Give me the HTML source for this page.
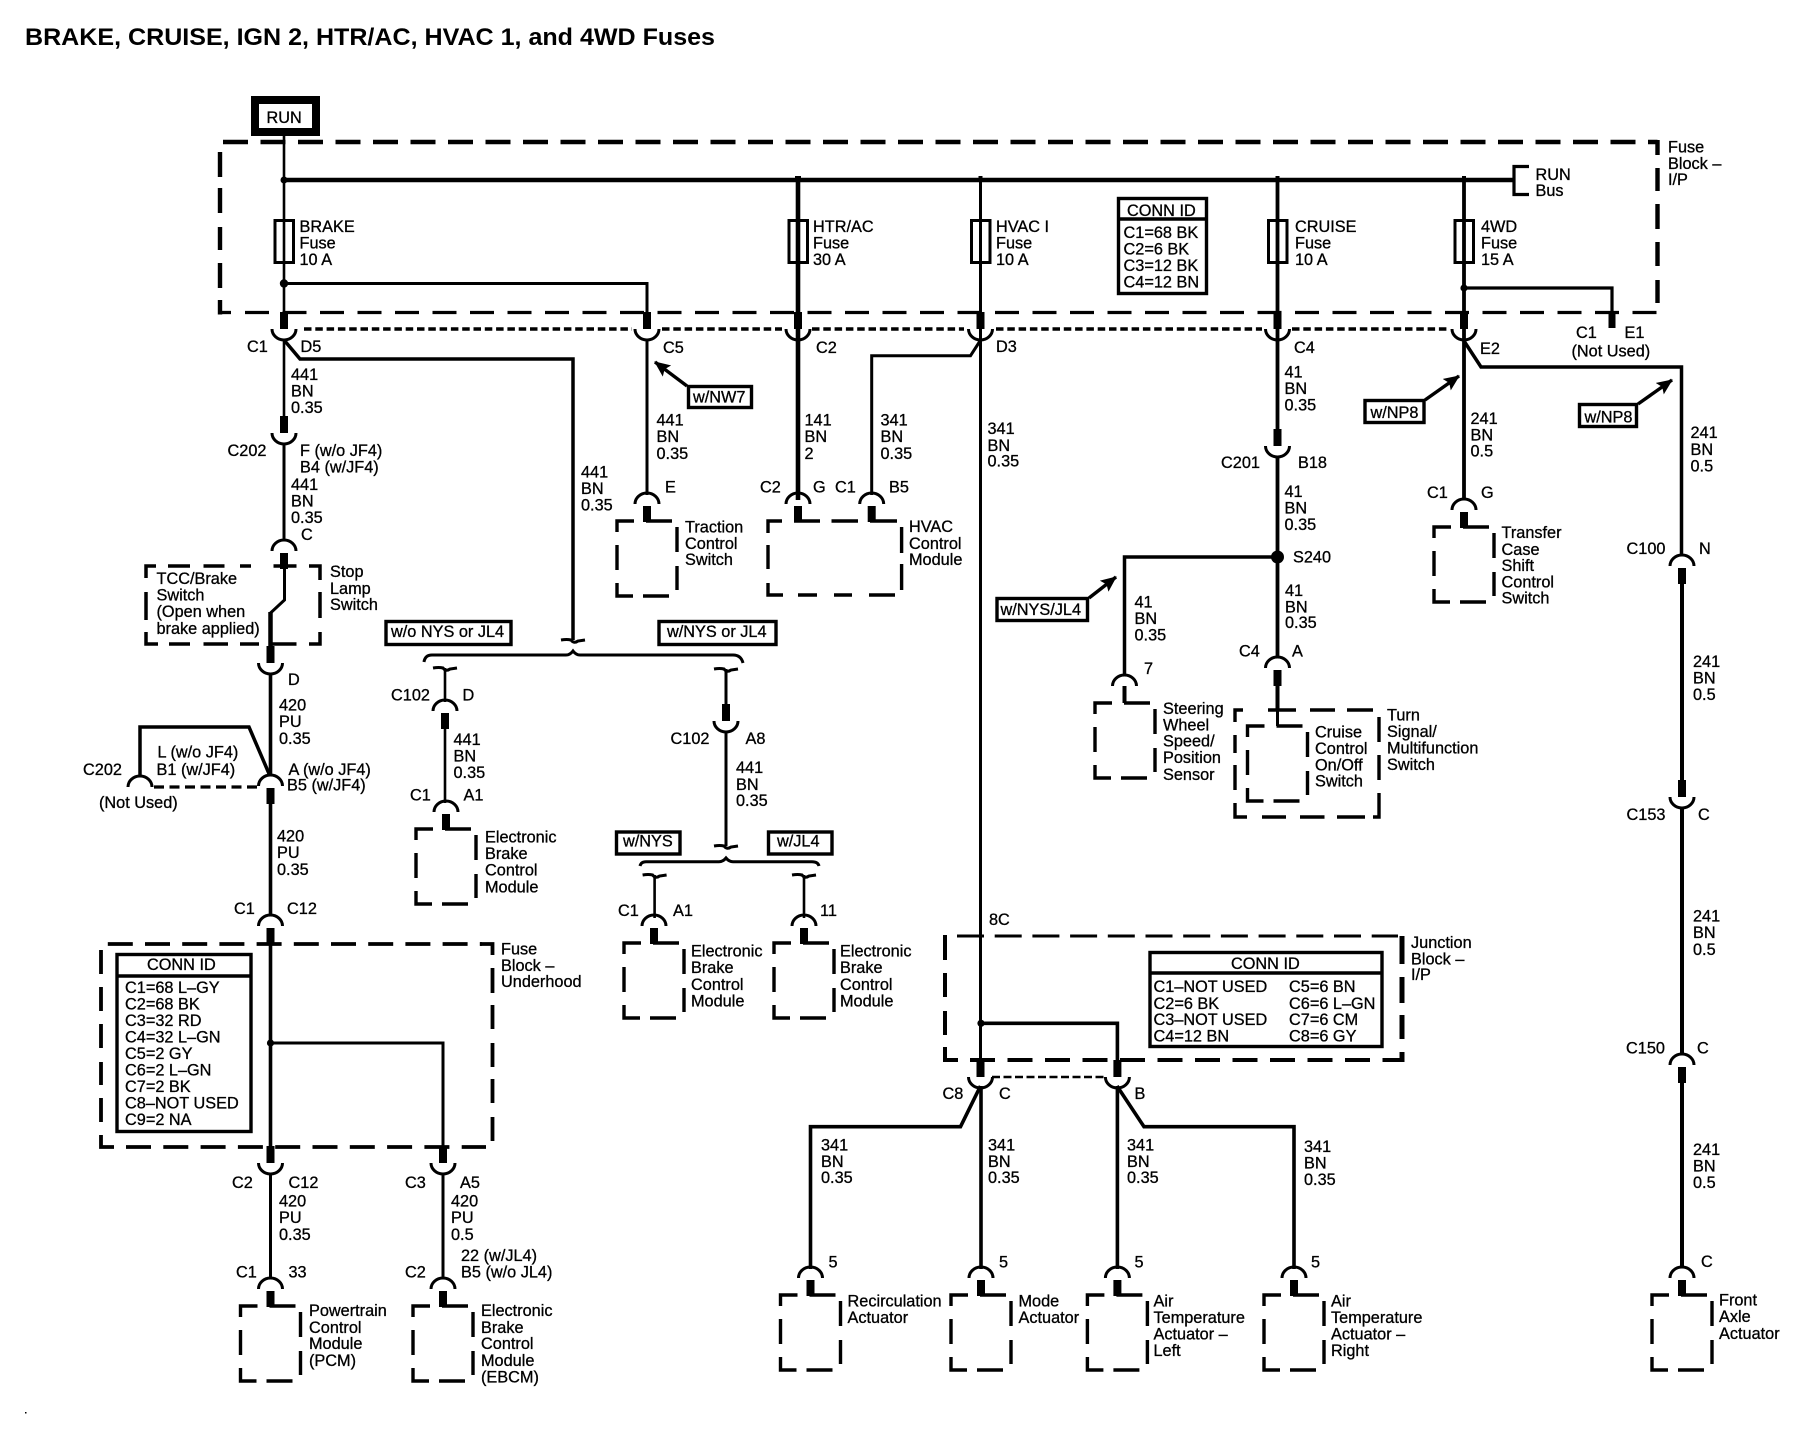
<!DOCTYPE html>
<html><head><meta charset="utf-8"><title>Fuses wiring diagram</title>
<style>
html,body{margin:0;padding:0;background:#fff}
svg{display:block}
text{font-family:"Liberation Sans",sans-serif;font-size:16.3px;fill:#000;stroke:#000;stroke-width:.3px}
.w{fill:none;stroke:#000;stroke-linejoin:miter}
</style></head><body>
<svg width="1808" height="1456" viewBox="0 0 1808 1456" xmlns="http://www.w3.org/2000/svg">
<defs>
<marker id="ah" markerUnits="userSpaceOnUse" markerWidth="18" markerHeight="14" refX="15" refY="7" orient="auto"><path d="M0 0L16 7L0 14L3 7Z"/></marker>
<g id="cup"><rect x="-4" y="-17" width="8" height="17"/><path class="w" stroke-width="3" d="M-12 0A12 11 0 0 0 12 0"/></g>
<g id="cap"><path class="w" stroke-width="3" d="M-12 11A12 11 0 0 1 12 11"/><rect x="-4" y="13" width="8" height="16"/></g>
<g id="mod"><path class="w" stroke-width="3.4" d="M-30 11V0H-13M-1 0H25M-30 24V49M-30 62V75H-14M-4 75H22M30 6V31M30 45V69"/></g>
<g id="cm"><use href="#cap" y="-28"/><use href="#mod"/></g>
<g id="fuse"><rect class="w" stroke-width="3" x="-9" y="220.5" width="18.5" height="42"/></g>
<path id="tick" class="w" stroke-width="3" d="M-12 0Q-6 -1 -2 0Q1 4 5 1L12 0"/>
</defs>

<!-- title -->
<text x="25" y="45" textLength="690" lengthAdjust="spacingAndGlyphs" style="font-size:24.5px;font-weight:bold;stroke-width:0">BRAKE, CRUISE, IGN 2, HTR/AC, HVAC 1, and 4WD Fuses</text>
<rect x="25" y="1412" width="1.5" height="1.5"/>

<!-- RUN -->
<rect class="w" stroke-width="8" x="255" y="100" width="61" height="32"/>
<text x="266.5" y="123">RUN</text>

<!-- fuse block I/P -->
<g class="w">
<path stroke-width="4.4" stroke-dasharray="25 12.5" d="M223 142H1657.5"/>
<path stroke-width="4.4" d="M220 152V177M220 188V213M220 227V250M220 263V288M220 300V314.5M1657.5 140V155M1657.5 168V191M1657.5 204V229M1657.5 242V266M1657.5 280V303"/>
<path stroke-width="3.3" d="M218 312.5H231"/>
<path stroke-width="3.3" stroke-dasharray="24 13.5" d="M245 312.5H1657"/>
<path stroke-width="3.6" stroke-dasharray="7.5 3.8" d="M304 329H632M662 329H782M812 329H964M996 329H1262M1292 329H1448"/>
<!-- bus -->
<path stroke-width="4.6" d="M284 180H1514"/>
<path stroke-width="3.2" d="M1529 166.5H1514V194.5H1529"/>
<!-- brake column -->
<path stroke-width="2.6" d="M284 136V329M284 340V433"/>
<path stroke-width="3" d="M284 283.5H647V329"/>
<path stroke-width="3" d="M647 340V495"/>
<path stroke-width="3.5" d="M284 340L300 359H573V640"/>
<path stroke-width="4.6" d="M798 176V500"/>
<path stroke-width="3" d="M980.5 176V1076"/>
<path stroke-width="3" d="M980 341L970.5 355.7H871.7V495"/>
<path stroke-width="3.8" d="M1277.5 176V430M1277.5 456V657"/>
<path stroke-width="3.8" d="M1464 176V498"/>
<path stroke-width="3.2" d="M1464 288H1612V313"/>
<path stroke-width="3.5" d="M1464 341L1481 367H1681.5V555"/>
<path stroke-width="4" d="M1682 583V781M1682 807V1054M1682 1083V1268"/>
<path stroke-width="3.5" d="M1277.5 557H1124.5V676"/>
<path stroke-width="4" d="M1124.5 686V703"/>
<path stroke-width="4" d="M1277.5 672V710"/>
<path stroke-width="3" d="M1277.5 710V726"/>
<!-- left column -->
<path stroke-width="3" d="M284 443V541M284.5 566V600L270.5 613"/>
<path stroke-width="4.5" d="M270.5 612V660"/>
<path stroke-width="3.6" d="M270.5 673V776M270.5 800V916M270.5 944V1147"/>
<path stroke-width="3.5" d="M270 776L249 727H140V776"/>
<path stroke-width="3.2" stroke-dasharray="10 5.5" d="M154 787H258"/>
<path stroke-width="3" d="M270 1043H443V1147"/>
<path stroke-width="3" d="M270.5 1175V1279M443 1175V1279"/>
<!-- C102 / brace -->
<path stroke-width="3" d="M424 662Q425 655 432 655H566Q570 655 573 651Q576 655 580 655H733Q741 655 743 663"/>
<path stroke-width="2.6" d="M445 668V702M445 725V803"/>
<path stroke-width="3" d="M726 669V706M726 731V846"/>
<path stroke-width="3" d="M640 866Q641 861.7 646 861.7H719Q723 861.7 726 858Q729 861.7 733 861.7H812Q818 861.7 819 866"/>
<path stroke-width="2.6" d="M654.6 875V918M804 875V918"/>
<!-- junction block lower -->
<path stroke-width="3.6" d="M981 1023.3H1117.4V1076"/>
<path stroke-width="2.6" stroke-dasharray="8 3.5" d="M992 1077H1106"/>
<path stroke-width="3.6" d="M980.5 1086L960.5 1126.7H810.5V1269"/>
<path stroke-width="3.6" d="M981 1086V1269M1117.4 1086V1269"/>
<path stroke-width="3.6" d="M1117 1086L1144 1126.7H1294V1269"/>
<!-- junction block dashed -->
<path stroke-width="3" stroke-dasharray="27 10.7" d="M957 936H1398"/>
<path stroke-width="4" d="M945 935V960M945 973V997M945 1011V1035M945 1047V1060H958"/>
<path stroke-width="4" stroke-dasharray="25 12.5" d="M970 1060H1403"/>
<path stroke-width="5" d="M1402 936V964M1402 977V1003M1402 1015V1039M1402 1052V1062"/>
<!-- underhood block -->
<path stroke-width="3.8" stroke-dasharray="25 12.2" d="M107.8 944H482"/>
<path stroke-width="3.8" d="M480 944H492.5V955M492.5 968V993M492.5 1005V1029M492.5 1043V1067M492.5 1079V1103M492.5 1117V1141M101 950V974M101 987V1011M101 1024V1048M101 1062V1085M101 1098V1122M101 1135V1147H114"/>
<path stroke-width="3.8" stroke-dasharray="25 12.3" d="M126 1147H486"/>
<!-- stop lamp box -->
<path stroke-width="3.5" d="M146 578V566H156M168 566H190M203.5 566H224.5M240 566H251M273.5 566H296.5M309 566H320V580M146 592V620M146 632V644H158M169 644H190M203.5 644H228M240 644H259M272 644H296.5M309 644H320V632M320 592V618"/>
<!-- HVAC module -->
<path stroke-width="3.4" d="M768 533V521H782M794 521H820M831.5 521H858M870 521H897M768 545V569M768 583V595H783M798 595H817M834 595H852M869 595H895M901.6 527V553M901.6 564V590"/>
<!-- cruise outer -->
<path stroke-width="3.4" d="M1235 722V710H1243M1268 710H1296M1310 710H1335M1347 710H1373M1235 735V753M1235 765V790M1235 803V817H1247M1262 817H1286M1300 817H1324.5M1337 817H1365M1373 817H1379V793M1379 717V742M1379 755V780"/>
<path stroke-width="3" d="M1112.5 686A12 11 0 0 1 1136.5 686"/>
</g>
<!-- stubs on box G / B5 -->
<use href="#cap" x="798" y="493"/><use href="#cap" x="871.7" y="493"/>

<!-- fuses -->
<use href="#fuse" x="284"/><use href="#fuse" x="798"/><use href="#fuse" x="980.5"/><use href="#fuse" x="1277.5"/><use href="#fuse" x="1464"/>

<!-- dots -->
<circle cx="284" cy="180" r="3.5"/><circle cx="284" cy="283.5" r="4.2"/><circle cx="1464" cy="288" r="3.6"/>
<circle cx="1277.5" cy="557" r="6.5"/><circle cx="270.5" cy="1043" r="3.6"/><circle cx="981" cy="1023.3" r="3.6"/>
<rect x="795" y="176" width="6" height="4"/><rect x="978.5" y="176" width="4" height="4"/><rect x="1275.5" y="176" width="4" height="4"/><rect x="1462" y="176" width="4" height="4"/>

<!-- cups -->
<use href="#cup" x="284" y="329"/><use href="#cup" x="647" y="329"/><use href="#cup" x="798" y="329"/><use href="#cup" x="980.5" y="329"/><use href="#cup" x="1277.5" y="329"/><use href="#cup" x="1464" y="329"/>
<rect x="1608.5" y="313" width="7" height="15"/>
<use href="#cup" x="284" y="433"/><use href="#cup" x="1277.5" y="446"/><use href="#cup" x="270.5" y="663"/>
<use href="#cup" x="726" y="721"/><use href="#cup" x="1682" y="797"/>
<use href="#cup" x="270.5" y="1163"/><use href="#cup" x="443" y="1163"/>
<use href="#cup" x="980.5" y="1077"/><use href="#cup" x="1117.4" y="1077"/>

<!-- caps -->
<use href="#cap" x="284" y="540"/><use href="#cap" x="270.5" y="775"/>
<path class="w" stroke-width="3" d="M128 787A12 11 0 0 1 152 787"/>
<use href="#cap" x="270.5" y="915"/><use href="#cap" x="445" y="700"/><use href="#cap" x="1277.5" y="657"/>
<use href="#cap" x="1682" y="555"/><use href="#cap" x="1682" y="1054"/>

<!-- ticks -->
<use href="#tick" x="573" y="640"/><use href="#tick" x="445" y="668"/><use href="#tick" x="726" y="669"/><use href="#tick" x="726" y="846"/><use href="#tick" x="654.6" y="875"/><use href="#tick" x="804" y="875"/>

<!-- modules -->
<use href="#cm" x="270.5" y="1306"/><use href="#cm" x="443" y="1306"/><use href="#cm" x="647" y="521"/><use href="#cm" x="446" y="829"/>
<use href="#cm" x="654" y="943"/><use href="#cm" x="804" y="943"/><use href="#mod" x="1125" y="703"/><use href="#mod" x="1277.5" y="726"/>
<use href="#cm" x="1464" y="527"/><use href="#cm" x="1682" y="1295"/>
<use href="#cm" x="810.5" y="1295"/><use href="#cm" x="981" y="1295"/><use href="#cm" x="1117.4" y="1295"/><use href="#cm" x="1294" y="1295"/>

<!-- tag boxes -->
<g class="w" stroke-width="3.4">
<rect x="386" y="621.5" width="125" height="23"/>
<rect x="659" y="621.5" width="117" height="23"/>
<rect x="616.5" y="832" width="63.5" height="22"/>
<rect x="768.5" y="832" width="63.5" height="22"/>
<rect x="997" y="598.5" width="90.5" height="22"/>
<rect x="688.5" y="386.5" width="63" height="21"/>
<rect x="1365" y="400.5" width="59" height="22"/>
<rect x="1579.5" y="404.5" width="57" height="22"/>
<path marker-end="url(#ah)" d="M687 386L655 362"/>
<path marker-end="url(#ah)" d="M1089 598L1116 577"/>
<path marker-end="url(#ah)" d="M1425 400L1459 376"/>
<path marker-end="url(#ah)" d="M1638 404L1672 380"/>
<!-- conn id boxes -->
<rect x="1118.5" y="198.5" width="88" height="95"/><path d="M1118 219H1207"/>
<rect x="117" y="954.5" width="134" height="177"/><path d="M117 976H251"/>
<rect x="1150" y="952.5" width="232" height="94"/><path d="M1150 973H1382"/>
</g>

<!-- labels -->
<text x="1127" y="216">CONN ID</text>
<text x="1123.5" y="238">C1=68 BK</text><text x="1123.5" y="254.5">C2=6 BK</text><text x="1123.5" y="271">C3=12 BK</text><text x="1123.5" y="287.5">C4=12 BN</text>

<text x="147" y="970">CONN ID</text>
<text x="125" y="993">C1=68 L–GY</text><text x="125" y="1009.5">C2=68 BK</text><text x="125" y="1026">C3=32 RD</text><text x="125" y="1042.5">C4=32 L–GN</text><text x="125" y="1059">C5=2 GY</text><text x="125" y="1075.5">C6=2 L–GN</text><text x="125" y="1092">C7=2 BK</text><text x="125" y="1108.5">C8–NOT USED</text><text x="125" y="1125">C9=2 NA</text>

<text x="1231" y="969">CONN ID</text>
<text x="1153.5" y="992">C1–NOT USED</text><text x="1153.5" y="1009">C2=6 BK</text><text x="1153.5" y="1025">C3–NOT USED</text><text x="1153.5" y="1041.5">C4=12 BN</text>
<text x="1289" y="992">C5=6 BN</text><text x="1289" y="1009">C6=6 L–GN</text><text x="1289" y="1025">C7=6 CM</text><text x="1289" y="1041.5">C8=6 GY</text>

<text x="299.5" y="232">BRAKE</text><text x="299.5" y="248.5">Fuse</text><text x="299.5" y="265">10 A</text>
<text x="813" y="232">HTR/AC</text><text x="813" y="248.5">Fuse</text><text x="813" y="265">30 A</text>
<text x="996" y="232">HVAC I</text><text x="996" y="248.5">Fuse</text><text x="996" y="265">10 A</text>
<text x="1295" y="232">CRUISE</text><text x="1295" y="248.5">Fuse</text><text x="1295" y="265">10 A</text>
<text x="1481" y="232">4WD</text><text x="1481" y="248.5">Fuse</text><text x="1481" y="265">15 A</text>
<text x="1535.5" y="180">RUN</text><text x="1535.5" y="196">Bus</text>
<text x="1668" y="152.5">Fuse</text><text x="1668" y="169">Block –</text><text x="1668" y="185">I/P</text>

<text x="247" y="352">C1</text><text x="300.5" y="352">D5</text>
<text x="663" y="353">C5</text><text x="816" y="353">C2</text><text x="996" y="352">D3</text><text x="1294" y="353">C4</text><text x="1480" y="354">E2</text>
<text x="1576" y="338">C1</text><text x="1624.5" y="338">E1</text><text x="1571.5" y="356.5">(Not Used)</text>

<text x="291" y="380">441</text><text x="291" y="396.5">BN</text><text x="291" y="413">0.35</text>
<text x="227.5" y="456">C202</text><text x="300" y="456">F (w/o JF4)</text><text x="300" y="472.5">B4 (w/JF4)</text>
<text x="291" y="490">441</text><text x="291" y="506.5">BN</text><text x="291" y="523">0.35</text>
<text x="301" y="540">C</text>
<text x="156.5" y="584">TCC/Brake</text><text x="156.5" y="600.5">Switch</text><text x="156.5" y="617">(Open when</text><text x="156.5" y="634">brake applied)</text>
<text x="330" y="577">Stop</text><text x="330" y="594">Lamp</text><text x="330" y="610">Switch</text>
<text x="288" y="685">D</text>
<text x="279" y="710.5">420</text><text x="279" y="727">PU</text><text x="279" y="744">0.35</text>
<text x="157.5" y="757.5">L (w/o JF4)</text><text x="156.5" y="775">B1 (w/JF4)</text><text x="83" y="775">C202</text>
<text x="288.5" y="775">A (w/o JF4)</text><text x="287" y="790.5">B5 (w/JF4)</text>
<text x="99" y="808">(Not Used)</text>
<text x="277" y="841.5">420</text><text x="277" y="858">PU</text><text x="277" y="875">0.35</text>
<text x="234" y="914">C1</text><text x="287" y="914">C12</text>
<text x="501" y="954.5">Fuse</text><text x="501" y="971">Block –</text><text x="501" y="987">Underhood</text>
<text x="232" y="1188">C2</text><text x="288.5" y="1188">C12</text><text x="405" y="1188">C3</text><text x="460" y="1188">A5</text>
<text x="279" y="1206.5">420</text><text x="279" y="1223">PU</text><text x="279" y="1240">0.35</text>
<text x="451" y="1206.5">420</text><text x="451" y="1223">PU</text><text x="451" y="1240">0.5</text>
<text x="461" y="1261">22 (w/JL4)</text><text x="461" y="1277.5">B5 (w/o JL4)</text>
<text x="236" y="1277.5">C1</text><text x="288.5" y="1277.5">33</text><text x="405" y="1277.5">C2</text>
<text x="309" y="1316">Powertrain</text><text x="309" y="1333">Control</text><text x="309" y="1349">Module</text><text x="309" y="1366">(PCM)</text>
<text x="481" y="1316">Electronic</text><text x="481" y="1333">Brake</text><text x="481" y="1349">Control</text><text x="481" y="1366">Module</text><text x="481" y="1382.5">(EBCM)</text>

<text x="581" y="477.5">441</text><text x="581" y="494">BN</text><text x="581" y="510.5">0.35</text>
<text x="656.5" y="425.5">441</text><text x="656.5" y="442">BN</text><text x="656.5" y="459">0.35</text>
<text x="804.5" y="425.5">141</text><text x="804.5" y="442">BN</text><text x="804.5" y="459">2</text>
<text x="880.5" y="425.5">341</text><text x="880.5" y="442">BN</text><text x="880.5" y="459">0.35</text>
<text x="987.5" y="434">341</text><text x="987.5" y="451">BN</text><text x="987.5" y="466.5">0.35</text>
<text x="665" y="492.5">E</text><text x="760" y="492.5">C2</text><text x="813" y="492.5">G</text><text x="835" y="492.5">C1</text><text x="889" y="492.5">B5</text>
<text x="693" y="402.5">w/NW7</text>
<text x="685" y="532.5">Traction</text><text x="685" y="549">Control</text><text x="685" y="565">Switch</text>
<text x="909" y="532">HVAC</text><text x="909" y="549">Control</text><text x="909" y="565">Module</text>

<text x="391" y="637">w/o NYS or JL4</text><text x="667" y="637">w/NYS or JL4</text>
<text x="391" y="700.5">C102</text><text x="462.5" y="700.5">D</text>
<text x="453.5" y="745">441</text><text x="453.5" y="761.5">BN</text><text x="453.5" y="778">0.35</text>
<text x="410" y="800.5">C1</text><text x="463.5" y="800.5">A1</text>
<text x="485" y="842.5">Electronic</text><text x="485" y="859">Brake</text><text x="485" y="875.5">Control</text><text x="485" y="892.5">Module</text>

<text x="670.5" y="744">C102</text><text x="745.5" y="744">A8</text>
<text x="736" y="773">441</text><text x="736" y="790">BN</text><text x="736" y="806">0.35</text>
<text x="623" y="846.5">w/NYS</text><text x="777" y="846.5">w/JL4</text>
<text x="618" y="916">C1</text><text x="673" y="916">A1</text><text x="820" y="916">11</text>
<text x="691" y="956.5">Electronic</text><text x="691" y="973">Brake</text><text x="691" y="990">Control</text><text x="691" y="1006.5">Module</text>
<text x="840" y="956.5">Electronic</text><text x="840" y="973">Brake</text><text x="840" y="990">Control</text><text x="840" y="1006.5">Module</text>

<text x="1284.5" y="377.5">41</text><text x="1284.5" y="394">BN</text><text x="1284.5" y="410.5">0.35</text>
<text x="1221" y="468">C201</text><text x="1298" y="468">B18</text>
<text x="1284.5" y="497">41</text><text x="1284.5" y="513.5">BN</text><text x="1284.5" y="530">0.35</text>
<text x="1293" y="562.5">S240</text>
<text x="1285" y="596">41</text><text x="1285" y="612.5">BN</text><text x="1285" y="628">0.35</text>
<text x="1239" y="656.5">C4</text><text x="1292" y="656.5">A</text>
<text x="1134.5" y="607.5">41</text><text x="1134.5" y="624">BN</text><text x="1134.5" y="640.5">0.35</text>
<text x="1144" y="674">7</text>
<text x="1000.5" y="615">w/NYS/JL4</text>
<text x="1163" y="714">Steering</text><text x="1163" y="730.5">Wheel</text><text x="1163" y="746.5">Speed/</text><text x="1163" y="763">Position</text><text x="1163" y="780">Sensor</text>
<text x="1315" y="737.5">Cruise</text><text x="1315" y="754">Control</text><text x="1315" y="770.5">On/Off</text><text x="1315" y="786.5">Switch</text>
<text x="1387" y="720.5">Turn</text><text x="1387" y="737">Signal/</text><text x="1387" y="753.5">Multifunction</text><text x="1387" y="770">Switch</text>

<text x="1370.5" y="418">w/NP8</text><text x="1584.5" y="422.5">w/NP8</text>
<text x="1470.5" y="424">241</text><text x="1470.5" y="440.5">BN</text><text x="1470.5" y="456.5">0.5</text>
<text x="1690.5" y="438">241</text><text x="1690.5" y="455">BN</text><text x="1690.5" y="471.5">0.5</text>
<text x="1427" y="498">C1</text><text x="1481" y="498">G</text>
<text x="1501.5" y="538">Transfer</text><text x="1501.5" y="555">Case</text><text x="1501.5" y="571">Shift</text><text x="1501.5" y="587.5">Control</text><text x="1501.5" y="603.5">Switch</text>
<text x="1626.5" y="554">C100</text><text x="1699" y="554">N</text>
<text x="1693" y="667">241</text><text x="1693" y="683.5">BN</text><text x="1693" y="700">0.5</text>
<text x="1626.5" y="820">C153</text><text x="1698" y="820">C</text>
<text x="1693" y="921.5">241</text><text x="1693" y="938">BN</text><text x="1693" y="955">0.5</text>
<text x="1626" y="1053.5">C150</text><text x="1697" y="1053.5">C</text>
<text x="1693" y="1155">241</text><text x="1693" y="1171.5">BN</text><text x="1693" y="1188">0.5</text>
<text x="1701" y="1267">C</text>
<text x="1719" y="1305.5">Front</text><text x="1719" y="1322">Axle</text><text x="1719" y="1339">Actuator</text>

<text x="1411" y="948">Junction</text><text x="1411" y="964.5">Block –</text><text x="1411" y="980">I/P</text>
<text x="989" y="925">8C</text>
<text x="942.5" y="1099">C8</text><text x="999" y="1099">C</text><text x="1134.5" y="1099">B</text>
<text x="821" y="1150.5">341</text><text x="821" y="1167">BN</text><text x="821" y="1183">0.35</text>
<text x="988" y="1150.5">341</text><text x="988" y="1167">BN</text><text x="988" y="1183">0.35</text>
<text x="1127" y="1150.5">341</text><text x="1127" y="1167">BN</text><text x="1127" y="1183">0.35</text>
<text x="1304" y="1152">341</text><text x="1304" y="1168.5">BN</text><text x="1304" y="1185">0.35</text>
<text x="828.5" y="1267.5">5</text><text x="999" y="1267.5">5</text><text x="1134.5" y="1267.5">5</text><text x="1311" y="1267.5">5</text>
<text x="847.5" y="1306.5">Recirculation</text><text x="847.5" y="1323">Actuator</text>
<text x="1018.5" y="1306.5">Mode</text><text x="1018.5" y="1323">Actuator</text>
<text x="1153.5" y="1306.5">Air</text><text x="1153.5" y="1323">Temperature</text><text x="1153.5" y="1339.5">Actuator –</text><text x="1153.5" y="1356">Left</text>
<text x="1331" y="1306.5">Air</text><text x="1331" y="1323">Temperature</text><text x="1331" y="1339.5">Actuator –</text><text x="1331" y="1356">Right</text>
</svg>
</body></html>
